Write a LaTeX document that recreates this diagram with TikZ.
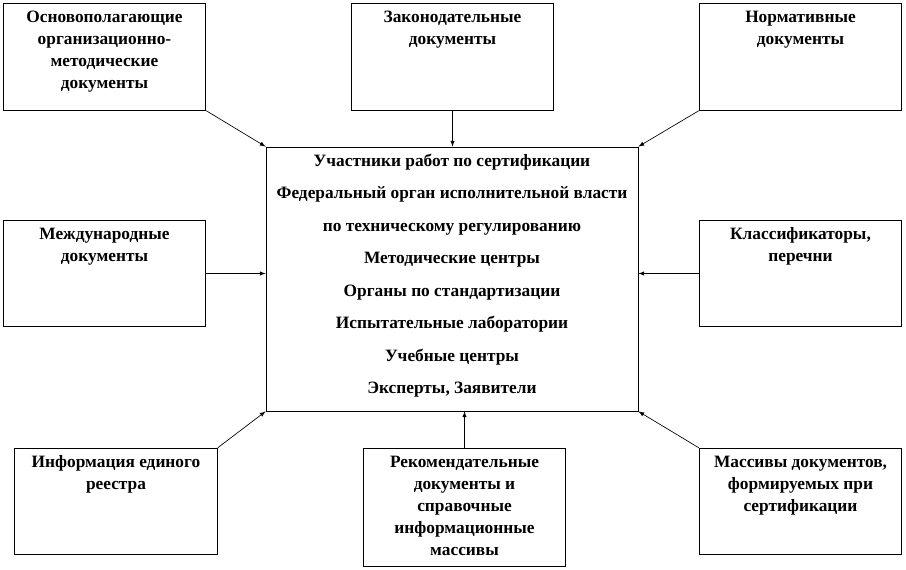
\documentclass[tikz,border=0pt]{standalone}
\usepackage{fontspec}
\setmainfont{Liberation Serif}
\usetikzlibrary{arrows, positioning}
\tikzstyle{wbox} = [rectangle, draw, line width = 0.6pt, inner sep = 0pt, font = \bfseries]
\tikzstyle{line} = [draw, line width = 0.5pt, -latex]
\newcommand{\boxtext}[2]{\parbox[c][#1][t]{152pt}{\centering\fontsize{13}{16.5}\selectfont\rule{0pt}{14.5pt}#2\par}}

\begin{document}
\begin{tikzpicture}[x=0.75pt, y=-0.75pt]
			\useasboundingbox (0,0) rectangle (906,570);
			\node [wbox] (tl) at (104.5, 57) {\boxtext{80pt}{Основополагающие\\ организационно-\\ методические\\ документы}};
			\node [wbox] (tm) at (452.5, 57) {\boxtext{80pt}{Законодательные\\ документы}};
			\node [wbox] (tr) at (800.5, 57) {\boxtext{80pt}{Нормативные\\ документы}};
			\node [wbox] (ml) at (104.5, 273.5) {\boxtext{80pt}{Международные\\ документы}};
			\node [wbox] (mr) at (800.5, 273.5) {\boxtext{80pt}{Классификаторы,\\ перечни}};
			\node [wbox] (bl) at (116, 501.5) {\boxtext{80pt}{Информация единого\\ реестра}};
			\node [wbox] (bm) at (464.5, 507) {\boxtext{88.5pt}{Рекомендательные\\ документы и\\ справочные\\ информационные\\ массивы}};
			\node [wbox] (br) at (800.5, 501.5) {\boxtext{80pt}{Массивы документов,\\ формируемых при\\ сертификации}};
			\node [wbox] (cen) at (452, 279) {\parbox[c][198pt][t]{279pt}{\centering\fontsize{13}{24.4}\selectfont\rule{0pt}{14.3pt}Участники работ по сертификации\\ Федеральный орган исполнительной власти\\ по техническому регулированию\\ Методические центры\\ Органы по стандартизации\\ Испытательные лаборатории\\ Учебные центры\\ Эксперты, Заявители\par}};

			\path [line] (tl.south east) -- (cen.north west);
			\path [line] (tm.south) -- (tm.south |- cen.north);
			\path [line] (tr.south west) -- (cen.north east);
			\path [line] (ml.east) -- (ml.east -| cen.west);
			\path [line] (mr.west) -- (mr.west -| cen.east);
			\path [line] (bl.north east) -- (cen.south west);
			\path [line] (bm.north) -- (bm.north |- cen.south);
			\path [line] (br.north west) -- (cen.south east);
		\end{tikzpicture}
\end{document}
